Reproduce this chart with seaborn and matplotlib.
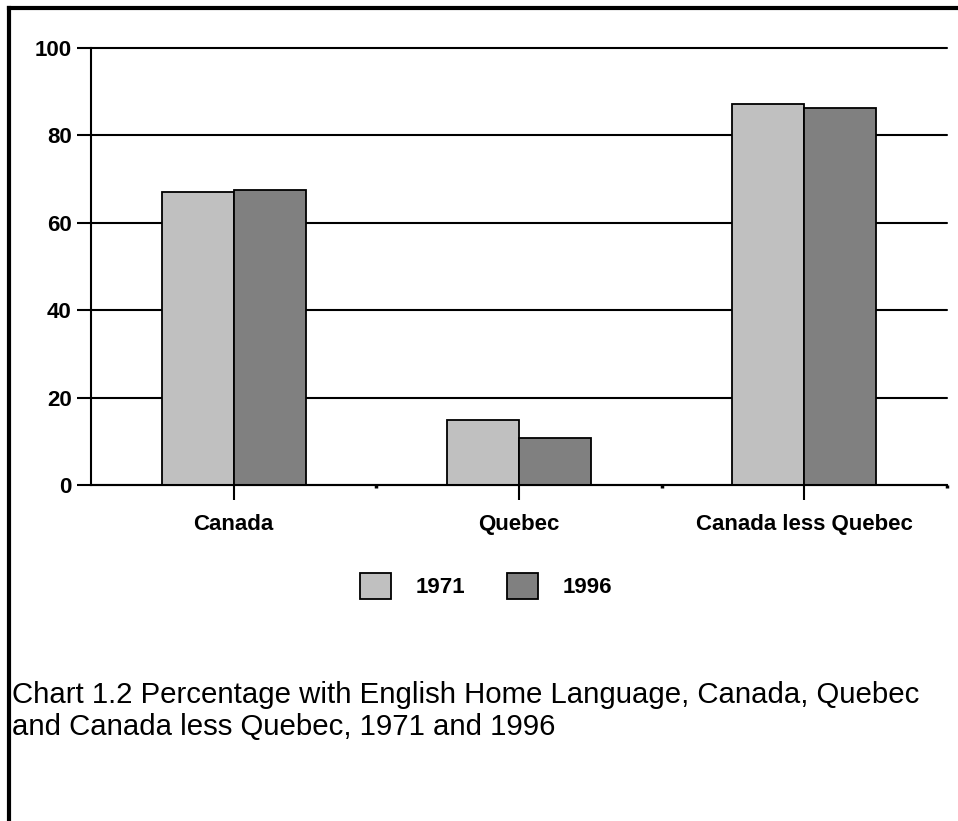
import matplotlib
matplotlib.use("Agg")
import matplotlib.pyplot as plt
from matplotlib.lines import Line2D
import pandas as pd
import seaborn as sns

# ---- data -------------------------------------------------------------
REGIONS  = ["Canada", "Quebec", "Canada less Quebec"]
YEARS    = ["1971", "1996"]
PCT_1971 = [67.0, 14.9, 87.2]
PCT_1996 = [67.5, 10.8, 86.3]
Y_TICKS  = [0, 20, 40, 60, 80, 100]
COLORS   = ["#c0c0c0", "#808080"]
CAPTION  = ("Chart 1.2 Percentage with English Home Language, Canada, Quebec\n"
            "and Canada less Quebec, 1971 and 1996")

df = pd.DataFrame({
    "region": REGIONS * 2,
    "year"  : [YEARS[0]] * len(REGIONS) + [YEARS[1]] * len(REGIONS),
    "pct"   : PCT_1971 + PCT_1996,
})

sns.set_theme(style="white")
plt.rcParams["font.family"] = ["Liberation Sans", "DejaVu Sans"]
plt.rcParams["text.color"] = "black"

W, H = 958, 821
fig = plt.figure(figsize=(W / 100, H / 100), dpi=100, facecolor="white")
ax = fig.add_axes([91 / W, 1 - 485 / H, (947 - 91) / W, (485 - 48) / H])

sns.barplot(data=df, x="region", y="pct", hue="year", palette=COLORS,
            width=0.505, saturation=1, edgecolor="black", linewidth=1.3,
            ax=ax, legend=True)

ax.set_xlim(-0.5, 2.5)
ax.set_ylim(0, 100)
ax.set_yticks(Y_TICKS)
ax.set_xticks(range(len(REGIONS)), labels=REGIONS)
ax.set_xticks([0.5, 1.5, 2.5], minor=True)
ax.set_xlabel("")
ax.set_ylabel("")

ax.set_axisbelow(True)
ax.yaxis.grid(True, color="black", linewidth=1.5)
ax.xaxis.grid(False)
for gl in ax.yaxis.get_gridlines():
    gl.set_clip_on(False)
for s in ["top", "right"]:
    ax.spines[s].set_visible(False)
for s in ["left", "bottom"]:
    ax.spines[s].set_color("black")
    ax.spines[s].set_linewidth(1.5)

ax.tick_params(axis="y", direction="out", length=10, width=1.5, pad=4,
               left=True, colors="black")
ax.tick_params(axis="x", which="major", direction="out", length=11, width=1.5,
               pad=10, bottom=True, colors="black")
ax.tick_params(axis="x", which="minor", direction="out", length=2.5, width=2.5,
               bottom=True, colors="black")
for lab in ax.get_xticklabels() + ax.get_yticklabels():
    lab.set_fontweight("bold")
    lab.set_fontsize(16)

sns.move_legend(ax, loc="center", bbox_to_anchor=(486 / W, 1 - 586 / H),
                bbox_transform=fig.transFigure, ncol=2, frameon=False,
                title=None, handlelength=1.4, handleheight=1.45,
                handletextpad=1.1, columnspacing=1.9,
                prop={"weight": "bold", "size": 16})
for h in ax.get_legend().legend_handles:
    h.set_edgecolor("black")
    h.set_linewidth(1.3)

fig.text(12 / W, 1 - 681 / H, CAPTION, ha="left", va="top", fontsize=21.2,
         color="black", linespacing=1.2)

# partial frame: left and top edges
fig.add_artist(Line2D([9 / W, 9 / W], [0, 1 - 8 / H], transform=fig.transFigure,
                      color="black", linewidth=3, solid_capstyle="projecting"))
fig.add_artist(Line2D([9 / W, 957 / W], [1 - 8 / H, 1 - 8 / H],
                      transform=fig.transFigure, color="black", linewidth=3,
                      solid_capstyle="projecting"))

fig.savefig("out.png", dpi=100, facecolor="white")
